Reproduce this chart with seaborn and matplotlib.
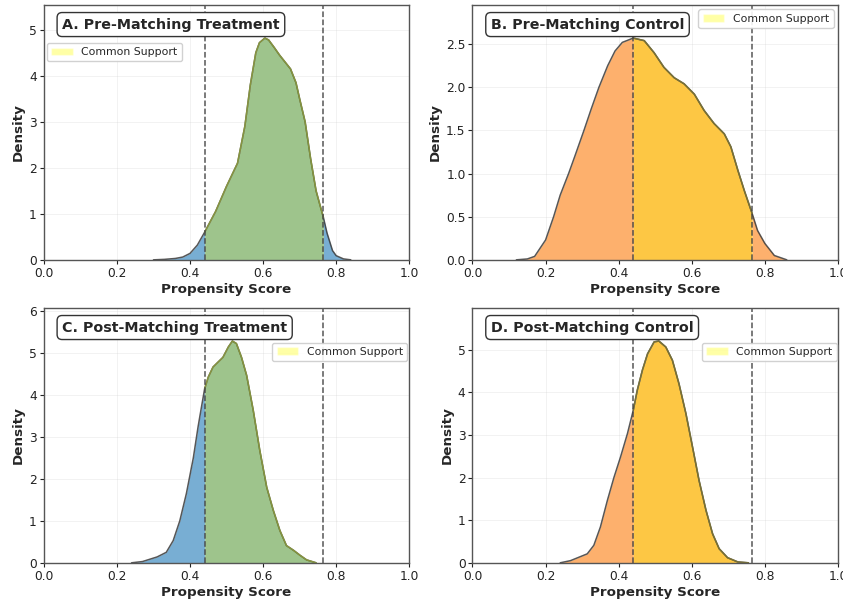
import numpy as np
import matplotlib
matplotlib.use("Agg")
import matplotlib.pyplot as plt
import seaborn as sns
from matplotlib.patches import Patch

# common support bounds
support_lo = 0.44
support_hi = 0.765

titles = ["A. Pre-Matching Treatment", "B. Pre-Matching Control",
          "C. Post-Matching Treatment", "D. Post-Matching Control"]

# density curves
pre_treat_x = [0.30, 0.33, 0.36, 0.38, 0.40, 0.42, 0.44, 0.47, 0.50, 0.53, 0.55, 0.565, 0.58, 0.59, 0.605,
               0.615, 0.63, 0.645, 0.66, 0.675, 0.69, 0.70, 0.715, 0.73, 0.745, 0.765, 0.775, 0.79, 0.80,
               0.82, 0.84]
pre_treat_y = [0.0, 0.01, 0.03, 0.06, 0.14, 0.32, 0.6, 1.05, 1.6, 2.1, 2.9, 3.8, 4.5, 4.72, 4.82,
               4.78, 4.62, 4.45, 4.3, 4.15, 3.85, 3.5, 3.0, 2.2, 1.5, 0.92, 0.58, 0.2, 0.09,
               0.02, 0.0]

pre_ctrl_x = [0.12, 0.15, 0.17, 0.20, 0.222, 0.24, 0.263, 0.28, 0.305, 0.325, 0.346, 0.37, 0.39, 0.41, 0.44,
              0.47, 0.497, 0.524, 0.552, 0.579, 0.607, 0.634, 0.661, 0.689, 0.707, 0.726, 0.744, 0.765,
              0.78, 0.80, 0.826, 0.86]
pre_ctrl_y = [0.0, 0.01, 0.04, 0.23, 0.5, 0.75, 1.0, 1.2, 1.5, 1.75, 2.0, 2.25, 2.42, 2.52, 2.57,
              2.54, 2.40, 2.23, 2.11, 2.04, 1.92, 1.73, 1.58, 1.46, 1.31, 1.04, 0.80, 0.54,
              0.34, 0.19, 0.05, 0.0]

post_treat_x = [0.24, 0.27, 0.31, 0.335, 0.354, 0.372, 0.39, 0.409, 0.422, 0.431, 0.44, 0.45, 0.463, 0.477,
                0.49, 0.505, 0.516, 0.527, 0.541, 0.555, 0.573, 0.591, 0.61, 0.628, 0.646, 0.664, 0.683,
                0.701, 0.719, 0.745]
post_treat_y = [0.0, 0.03, 0.14, 0.25, 0.53, 1.0, 1.65, 2.5, 3.24, 3.7, 4.15, 4.43, 4.67, 4.79,
                4.9, 5.15, 5.29, 5.23, 4.9, 4.47, 3.64, 2.68, 1.8, 1.25, 0.77, 0.41, 0.3,
                0.18, 0.07, 0.0]

post_ctrl_x = [0.24, 0.268, 0.291, 0.314, 0.332, 0.35, 0.369, 0.387, 0.405, 0.424, 0.44, 0.451, 0.465, 0.479,
               0.497, 0.51, 0.529, 0.547, 0.565, 0.584, 0.602, 0.62, 0.639, 0.657, 0.675, 0.698, 0.726, 0.755]
post_ctrl_y = [0.0, 0.05, 0.13, 0.21, 0.41, 0.84, 1.46, 2.0, 2.48, 3.03, 3.58, 4.05, 4.52, 4.9,
               5.18, 5.2, 5.06, 4.75, 4.2, 3.5, 2.72, 1.93, 1.23, 0.68, 0.33, 0.12, 0.02, 0.0]

sns.set_style("ticks")
plt.rcParams['font.family'] = ['DejaVu Sans']

fig, axes = plt.subplots(2, 2, figsize=(8.43, 6), dpi=100)
fig.subplots_adjust(left=0.052, right=0.994, top=0.992, bottom=0.062, wspace=0.173, hspace=0.188)

curves = [(pre_treat_x, pre_treat_y), (pre_ctrl_x, pre_ctrl_y),
          (post_treat_x, post_treat_y), (post_ctrl_x, post_ctrl_y)]
# treatment: blue outside / green inside; control: orange outside / gold inside
outer_colors = ['#78aed3', '#fdb06d', '#78aed3', '#fdb06d']
inner_colors = ['#9ec48c', '#fdc744', '#9ec48c', '#fdc744']
inner_edges = ['#8c9c3c', '#7c7434', '#8c9c3c', '#7c7434']
legend_locs = [('upper left', (0.008, 0.851)), ('upper right', (0.988, 0.982)),
               ('upper right', (0.995, 0.863)), ('upper right', (0.997, 0.863))]

for i, ax in enumerate(axes.flat):
    x = np.array(curves[i][0])
    y = np.array(curves[i][1])
    left = x <= support_lo
    mid = (x >= support_lo) & (x <= support_hi)
    right = x >= support_hi

    ax.fill_between(x, y, where=left, color=outer_colors[i], lw=0)
    ax.fill_between(x, y, where=right, color=outer_colors[i], lw=0)
    ax.fill_between(x, y, where=mid, color=inner_colors[i], lw=0)

    sns.lineplot(x=x, y=y, ax=ax, color='#3a3a3a', lw=1.1, alpha=0.85)
    sns.lineplot(x=x[mid], y=y[mid], ax=ax, color=inner_edges[i], lw=1.1, alpha=0.9)

    ax.axvline(support_lo, color='#444444', ls='--', lw=1.1, alpha=0.9)
    ax.axvline(support_hi, color='#444444', ls='--', lw=1.1, alpha=0.9)

    ax.set_xlim(0, 1.0)
    ax.set_ylim(0, y.max() * 1.15)
    ax.grid(True, alpha=0.3, lw=0.6)
    ax.tick_params(labelsize=8.8, length=3, pad=2, colors='#222222')
    for sp in ax.spines.values():
        sp.set_color('#555555')
        sp.set_linewidth(1.0)

    ax.set_xlabel("Propensity Score", fontsize=9.7, fontweight='bold', labelpad=2)
    ax.set_ylabel("Density", fontsize=9.7, fontweight='bold', labelpad=3)

    ax.text(0.05, 0.95, titles[i], transform=ax.transAxes, fontsize=10.3, fontweight='bold',
            va='top', ha='left',
            bbox=dict(boxstyle='round,pad=0.35', facecolor='white', edgecolor='#333333', lw=1))

    handle = Patch(facecolor='yellow', alpha=0.35, label='Common Support')
    loc, anchor = legend_locs[i]
    ax.legend(handles=[handle], loc=loc, bbox_to_anchor=anchor, borderaxespad=0,
              fontsize=7.8, framealpha=0.9)

plt.savefig("out.png", dpi=100)
